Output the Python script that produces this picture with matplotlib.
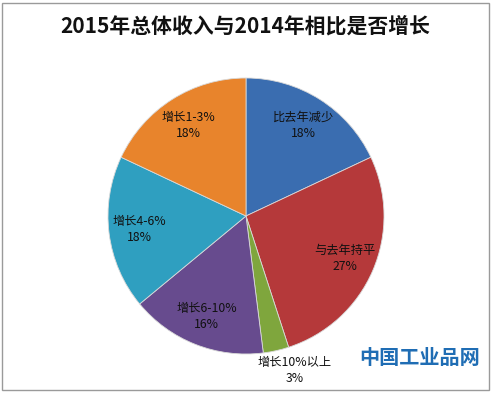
import numpy as np
import matplotlib

matplotlib.use("Agg")
import matplotlib.pyplot as plt
from matplotlib.patches import Rectangle

plt.rcParams["font.family"] = ["Noto Sans CJK SC", "DejaVu Sans"]

categories = ["比去年减少", "与去年持平", "增长10%以上", "增长6-10%", "增长4-6%", "增长1-3%"]
shares = [18, 27, 3, 16, 18, 18]
colors = ["#3a6db0", "#b5393a", "#7fa63d", "#674b8e", "#2f9fc0", "#e8842c"]

fig = plt.figure(figsize=(4.91, 3.93), dpi=100)
fig.patch.set_facecolor("white")

# pie box: centre ~(246, 216) px, radius ~138 px
ax = fig.add_axes([108 / 491, (393 - 216 - 138) / 393, 276 / 491, 276 / 393])
wedges, texts = ax.pie(
    shares,
    colors=colors,
    startangle=90,
    counterclock=False,
    labels=[f"{c}\n{s}%" for c, s in zip(categories, shares)],
    labeldistance=0.78,
    wedgeprops=dict(linewidth=0.6, edgecolor="#d9d9d9"),
    textprops=dict(fontsize=8.8, color="#111111", ha="center", va="center", linespacing=1.3),
)
for t in texts:
    t.set_ha("center")
    t.set_va("center")

# small slice label sits outside, below the pie
w = wedges[2]
mid = np.deg2rad((w.theta1 + w.theta2) / 2)
texts[2].set_position((1.15 * np.cos(mid) + 0.1, 1.15 * np.sin(mid)))

ax.set_xlim(-1, 1)
ax.set_ylim(-1, 1)

fig.text(0.5, 1 - 26 / 393, "2015年总体收入与2014年相比是否增长", ha="center", va="center",
         fontsize=15, fontweight="bold", color="#111111")

# watermark logo text
fig.text(420 / 491, 1 - 357 / 393, "中国工业品网", ha="center", va="center", fontsize=14.5,
         fontweight="bold", color="#1f6db4",
         bbox=dict(boxstyle="square,pad=0.15", facecolor="white", edgecolor="none"))

fig.patches.append(Rectangle((2 / 491, 3 / 393), 487 / 491, 387 / 393, transform=fig.transFigure,
                             fill=False, edgecolor="#9a9a9a", linewidth=1.0))

fig.savefig("out.png", dpi=100)
